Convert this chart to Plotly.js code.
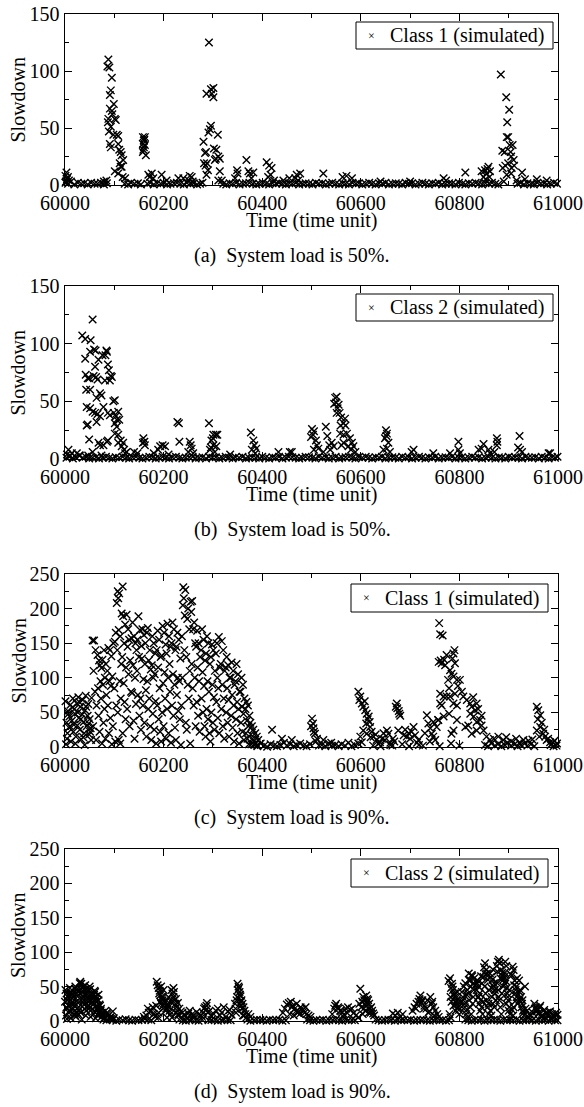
<!DOCTYPE html>
<html><head><meta charset="utf-8">
<script src="https://cdn.plot.ly/plotly-3.0.1.min.js"></script>
<style>html,body{margin:0;padding:0;background:#fff}#chart{width:584px;height:1107px}</style>
</head><body><div id="chart"></div>
<script>
// ---------- Panel (a): Class 1, load 50% ----------
const a_base_x = [
60001,60006,60012,60019,60026,60033,60039,60046,60053,60060,
60066,60073,60079,60085,60121,60128,60134,60141,60148,60154,
60167,60173,60180,60187,60194,60200,60207,60214,60221,60227,
60234,60241,60247,60254,60261,60268,60274,60279,60321,60327,
60334,60340,60347,60354,60361,60367,60374,60381,60388,60394,
60401,60408,60414,60421,60428,60434,60441,60448,60455,60461,
60468,60475,60482,60488,60495,60502,60509,60515,60522,60529,
60536,60542,60549,60556,60563,60569,60576,60583,60590,60596,
60603,60610,60617,60623,60630,60637,60644,60650,60657,60664,
60671,60677,60684,60691,60698,60704,60711,60718,60725,60731,
60738,60745,60752,60758,60765,60772,60779,60785,60792,60799,
60806,60812,60819,60826,60833,60839,60846,60853,60860,60866,
60873,60879,60918,60924,60931,60938,60945,60951,60958,60965,
60972,60978,60985,60992,60998];
const a_base_y = [
2,1,3,0.5,2,1,1.5,0.5,2,1,
1,2,0.5,1.5,1,0.5,2,1,1.5,0.5,
1,2,0.5,1.5,1,2,0.5,1,1.5,2,
1,0.5,2,1,1.5,0.5,1,2,1,0.5,
1.5,1,2,0.5,1,1.5,2,1,0.5,1,
2,1,0.5,1.5,1,2,1,0.5,1.5,1,
2,0.5,1,1.5,1,0.5,2,1,1.5,0.5,
1,2,1,0.5,1.5,1,0.5,2,1,1.5,
0.5,1,2,1,0.5,1.5,1,2,0.5,1,
1.5,1,0.5,2,1,1.5,0.5,1,2,1,
0.5,1.5,1,2,0.5,1,1.5,1,0.5,2,
1,0.5,1.5,1,2,1,0.5,1.5,1,2,
1,0.5,1,2,0.5,1.5,1,0.5,2,1,
1.5,0.5,1,2,1];
const a_spike_x = [
60001,60003,60004,60006,60002,60008,60088,60086,60090,60095,
60093,60091,60099,60091,60095,60088,60087,60093,60101,60103,
60098,60105,60108,60091,60093,60108,60110,60113,60115,60111,
60115,60101,60108,60117,60122,60113,60118,60096,60089,60084,
60079,60158,60162,60160,60158,60162,60158,60164,60160,60161,
60159,60169,60176,60172,60179,60196,60206,60230,60240,60253,
60257,60251,60259,60292,60287,60296,60301,60301,60294,60296,
60291,60281,60310,60302,60307,60311,60306,60314,60284,60286,
60282,60285,60288,60290,60287,60314,60311,60318,60298,60304,
60349,60350,60345,60368,60372,60375,60382,60378,60409,60414,
60419,60417,60412,60424,60443,60455,60470,60477,60467,60473,
60524,60563,60571,60582,60640,60700,60768,60773,60812,60845,
60852,60859,60855,60861,60849,60862,60857,60853,60884,60895,
60901,60897,60899,60896,60908,60887,60904,60892,60905,60910,
60899,60893,60888,60906,60911,60905,60896,60927,60916,60933,
60957,60977,60902,60890];
const a_spike_y = [
8,11,5,7,3,4,110,104,103,94,
83,79,71,67,65,58,55,51,58,57,
44,44,43,36,33,36,31,29,26,19,
16,12,10,7,6,16,22,62,47,4,
3,42,42,39,36,35,29,26,33,40,
31,9,10,7,6,9,4,6,6,8,
7,4,3,125,80,84,85,77,49,52,
46,38,44,32,31,25,23,23,28,29,
19,17,19,13,9,12,4,4,80,22,
13,10,6,22,12,10,11,6,20,17,
15,9,7,4,4,6,9,10,6,4,
10,7,8,6,3,3,6,4,11,12,
13,16,10,7,7,12,14,5,97,77,
66,55,42,42,35,30,29,29,25,22,
19,17,15,15,17,10,9,11,4,5,
5,4,35,3];

// ---------- Panel (b): Class 2, load 50% ----------
const b_base_x = [
60003,60009,60016,60022,60029,60036,60042,60049,60056,60063,
60069,60076,60083,60090,60096,60103,60110,60117,60124,60130,
60137,60144,60151,60157,60164,60171,60178,60184,60191,60198,
60205,60211,60218,60225,60232,60238,60245,60252,60259,60265,
60272,60279,60286,60292,60299,60306,60313,60319,60326,60333,
60340,60346,60353,60360,60367,60373,60380,60387,60394,60400,
60407,60414,60421,60427,60434,60441,60448,60454,60461,60468,
60475,60481,60488,60495,60502,60508,60515,60522,60529,60535,
60542,60549,60556,60562,60569,60576,60583,60589,60596,60603,
60610,60616,60623,60630,60637,60643,60650,60657,60664,60670,
60677,60684,60691,60697,60704,60711,60718,60724,60731,60738,
60745,60751,60758,60765,60772,60778,60785,60792,60799,60805,
60812,60819,60826,60832,60839,60846,60853,60859,60866,60873,
60880,60886,60893,60900,60907,60913,60920,60927,60934,60940,
60947,60954,60961,60967,60974,60981,60988,60994,60999];
const b_base_y = [
1,2,0.5,1.5,3,1,2,0.5,1,1.5,
0.5,1,2,1,0.5,1.5,1,2,1,0.5,
1.5,2,1,0.5,1,2,1.5,0.5,1,2,
1,0.5,1.5,2,1,0.5,1,1.5,2,0.5,
1,1.5,0.5,2,1,1.5,0.5,1,2,1,
0.5,1.5,1,2,0.5,1,1.5,1,0.5,2,
1,0.5,1.5,1,2,0.5,1,2,1.5,1,
0.5,1,2,1.5,1,0.5,2,1,1.5,0.5,
1,2,0.5,1,1.5,2,1,0.5,1.5,1,
2,1,0.5,1.5,1,2,0.5,1,1.5,1,
0.5,2,1,1.5,0.5,1,2,1,0.5,1.5,
1,2,0.5,1,1.5,1,2,0.5,1,1.5,
0.5,1,2,1,1.5,0.5,1,2,1,0.5,
1.5,1,0.5,2,1,1.5,1,0.5,2,1,
1,1.5,0.5,2,1,0.5,1.5,1,2];
const b_spike_x = [
60007,60014,60004,60010,60030,60024,60035,60041,60056,60052,
60059,60062,60051,60041,60068,60061,60085,60082,60087,60089,
60091,60081,60042,60046,60049,60063,60066,60095,60071,60074,
60064,60043,60051,60044,60051,60056,60061,60066,60071,60064,
60078,60087,60091,60098,60101,60099,60103,60101,60105,60105,
60101,60108,60110,60044,60046,60049,60047,60056,60068,60071,
60078,60085,60087,60074,60108,60108,60113,60115,60118,60120,
60125,60122,60093,60084,60058,60076,60159,60161,60158,60162,
60140,60147,60193,60198,60203,60189,60228,60231,60232,60253,
60255,60257,60250,60260,60292,60301,60306,60309,60297,60301,
60294,60304,60307,60335,60377,60382,60384,60388,60379,60386,
60433,60456,60300,60296,60180,60210,60460,60501,60505,60499,
60509,60511,60514,60505,60524,60529,60532,60536,60541,60545,
60548,60551,60550,60546,60555,60551,60557,60568,60565,60559,
60569,60558,60565,60572,60578,60582,60575,60585,60565,60561,
60589,60580,60651,60653,60649,60656,60653,60659,60646,60707,
60703,60747,60781,60798,60798,60801,60849,60845,60839,60859,
60862,60876,60877,60876,60922,60923,60927,60981,60984,60553,
60560,60503,60538,60652,60871,60919];
const b_spike_y = [
8,5,4,3,3,5,107,104,121,103,
95,94,93,87,86,80,93,90,82,77,
68,68,73,70,70,71,69,71,57,55,
53,60,60,45,44,41,40,39,37,32,
45,40,38,50,51,40,37,31,34,28,
22,41,34,29,30,17,3,6,14,12,
12,15,16,3,21,14,16,11,14,8,
6,5,72,94,72,90,18,15,14,12,
6,5,11,12,11,8,32,31,15,15,
12,9,6,5,31,21,21,21,16,12,
8,6,11,4,23,16,12,9,8,5,
6,6,18,10,5,4,6,26,24,19,
16,12,9,8,6,28,20,12,14,11,
53,54,49,48,47,40,40,35,31,29,
29,22,21,22,18,14,11,11,14,12,
6,8,25,22,18,14,9,6,8,8,
6,5,5,15,8,5,13,9,8,8,
5,18,15,12,20,8,6,5,5,44,
36,21,8,20,6,10];

// ---------- Panel (c): Class 1, load 90% ----------
const c_base_x = [
60384,60390,60397,60404,60410,60417,60424,60430,60437,60444,
60450,60457,60464,60470,60477,60484,60490,60497,60515,60521,
60528,60535,60541,60548,60555,60561,60568,60575,60581,60588,
60625,60640,60660,60664,60684,60698,60718,60726,60760,60800,
60852,60858,60865,60872,60878,60885,60892,60898,60905,60912,
60918,60925,60932,60938,60945,60952,60985,60991,60997];
const c_base_y = [
3,1,5,2,0.5,4,2,1,3,6,
2,4,1,3,5,2,1,4,2,3,
1,5,2,3,1,4,2,6,1,3,
2,1,3,2,4,1,3,2,1,2,
3,1,5,2,4,1,3,6,2,4,
1,3,5,2,4,1,3,1,2];
const c_left_x = [
60001,60003,60004,60006,60008,60009,60011,60012,60014,60016,
60017,60019,60020,60022,60024,60025,60027,60028,60030,60031,
60033,60035,60036,60038,60039,60041,60042,60044,60046,60047,
60049,60050,60052,60054,60002,60005,60010,60015,60021,60026,
60032,60037,60043,60048,60053,60007,60018,60029,60040,60051];
const c_left_y = [
66,35,12,52,28,44,61,8,38,70,
22,55,48,15,63,31,72,42,25,58,
11,47,68,36,20,53,74,30,45,62,
18,40,27,71,4,20,30,57,5,50,
40,14,58,34,10,48,32,65,3,22];
const c_cloud_x = [
60056,60059,60062,60058,60061,60064,60057,60063,
60066,60071,60074,60069,60072,60067,60073,60068,60070,60075,
60076,60083,60079,60081,60077,60084,60080,60078,60082,
60088,60091,60094,60086,60090,60093,60087,60092,60089,60095,
60101,60098,60103,60105,60096,60100,60104,60097,60102,
60108,60110,60107,60109,60112,60106,60114,60111,60113,60107,60109,60112,
60117,60115,60118,60122,60120,60116,60124,60119,60121,60123,60117,
60125,60128,60130,60135,60127,60132,60129,60134,60126,60131,
60137,60140,60143,60145,60138,60142,60136,60144,60139,60141,
60149,60152,60147,60155,60150,60146,60153,60148,60151,60154,
60157,60160,60163,60156,60162,60159,60164,60158,60161,60165,
60168,60166,60172,60170,60174,60167,60171,60169,60173,60175,
60177,60180,60183,60176,60182,60179,60184,60178,60181,60185,
60188,60191,60186,60194,60189,60192,60187,60190,60193,60195,
60198,60201,60204,60196,60202,60199,60203,60197,60200,60205,
60208,60211,60214,60206,60212,60209,60213,60207,60210,60215,
60218,60221,60216,60224,60219,60222,60217,60220,60223,60225,
60228,60231,60226,60234,60229,60232,60227,60230,60233,60235,
60240,60244,60241,60239,60243,60237,60242,60238,60236,60245,
60255,60250,60248,60252,60246,60253,60249,60251,60247,60254,
60258,60256,60262,60260,60264,60257,60263,60259,60261,60265,
60268,60271,60266,60274,60269,60272,60267,60270,60273,
60278,60281,60276,60284,60279,60282,60277,60280,60283,60285,
60288,60291,60286,60294,60289,60292,60287,60290,60293,60295,
60298,60301,60296,60304,60299,60302,60297,60300,60303,
60312,60308,60306,60314,60309,60311,60307,60310,60313,
60318,60321,60316,60324,60319,60322,60317,60320,60323,
60328,60331,60326,60334,60329,60332,60327,60330,60333,
60338,60341,60336,60344,60339,60342,60337,60340,60343,
60348,60351,60346,60354,60349,60352,60347,60350,60353,
60358,60361,60356,60364,60359,60362,60357,60360,60363,
60368,60371,60366,60374,60369,60372,60367,60370,60373,
60376,60379,60382,60377,60380,60383,60378,
60386,60389,60392,60387,60390];
const c_cloud_y = [
154,154,140,110,80,60,30,10,
133,118,114,125,95,85,70,45,22,5,
126,120,140,100,90,75,55,35,12,
143,140,131,110,95,88,60,42,20,4,
152,150,165,208,102,85,60,30,8,
215,222,225,169,160,140,120,95,70,50,10,5,
232,193,189,177,150,130,115,92,65,40,20,
191,170,155,157,145,125,105,80,55,30,
180,160,150,140,118,100,78,62,38,12,
189,169,155,146,130,110,70,75,45,25,
170,162,150,128,120,98,82,60,35,15,
172,165,140,125,112,95,70,55,30,10,
160,150,135,118,105,100,66,48,25,5,
168,155,140,130,115,85,60,40,22,8,
175,165,148,132,108,92,70,50,30,12,
178,160,145,135,120,100,80,55,20,6,
180,170,150,140,105,90,60,45,28,10,
165,155,145,128,100,95,75,52,40,3,
231,227,215,205,190,160,140,100,60,35,
210,200,185,170,130,110,90,70,25,5,
211,195,180,170,150,120,100,85,60,30,
168,150,145,130,115,95,65,45,22,
170,155,140,125,108,88,70,50,30,15,
160,150,135,120,95,80,55,40,20,8,
148,140,130,110,90,72,50,35,25,
159,150,135,115,100,85,65,42,20,
153,140,120,110,90,70,55,30,12,
130,118,115,100,85,68,50,35,15,
122,110,100,90,75,60,45,28,8,
120,105,95,80,65,55,40,20,5,
100,90,80,70,58,48,35,22,10,
65,60,55,45,38,30,20,12,4,
35,30,25,18,12,8,4,
20,15,10,6,3];
const c_right_x = [
60501,60503,60504,60507,60511,60499,60505,60509,60524,60540,
60595,60599,60602,60605,60609,60612,60616,60618,60619,60611,
60605,60612,60622,60599,60602,60595,60597,60608,60614,60620,
60626,60632,60643,60653,60656,60649,60639,60630,60646,60636,
60673,60674,60678,60680,60676,60671,60677,60668,60660,60665,
60687,60693,60700,60707,60710,60717,60690,60697,60703,60714,
60734,60737,60741,60744,60747,60751,60754,60757,60730,60740,
60759,60761,60766,60758,60764,60769,60774,60788,60791,60781,
60784,60788,60795,60801,60777,60761,60768,60774,60781,60791,
60805,60808,60761,60764,60788,60795,60747,60757,60768,60779,
60795,60784,60788,60783,60771,60786,60797,60762,60790,60779,
60815,60822,60825,60832,60835,60822,60829,60835,60842,60845,
60849,60835,60818,60812,60825,60855,60862,60838,60828,60845,
60879,60889,60930,60905,60915,60870,60940,60895,60922,60948,
60957,60960,60964,60957,60964,60970,60974,60977,60984,60998,
60959,60967,60962,60972,60980,60990,60993,60420,60440,60460];
const c_right_y = [
41,34,27,19,12,30,22,8,10,6,
80,73,63,58,53,48,44,36,29,34,
24,19,22,15,7,5,68,66,40,14,
15,10,12,24,19,10,7,18,20,5,
63,56,48,45,24,58,52,8,6,12,
17,15,12,29,17,10,25,20,22,6,
46,34,27,19,15,10,29,39,20,8,
179,163,161,123,121,126,133,135,121,111,
106,102,97,97,97,77,73,73,73,77,
80,73,63,60,63,60,36,39,44,48,
39,19,24,5,118,128,88,125,140,85,
68,63,58,53,63,48,44,36,39,31,
24,24,31,29,19,15,10,55,72,45,
15,10,10,8,12,12,9,14,6,11,
58,53,46,24,29,19,15,10,7,5,
40,35,15,25,12,6,9,25,12,10];

// ---------- Panel (d): Class 2, load 90% ----------
const d_base_x = [
60078,60084,60091,60097,60104,60110,60117,60123,60130,60136,
60143,60149,60156,60162,60169,60175,60232,60239,60245,60252,
60258,60265,60271,60278,60291,60297,60304,60310,60317,60323,
60330,60336,60370,60376,60383,60389,60396,60402,60409,60415,
60422,60428,60435,60441,60448,60491,60497,60504,60510,60517,
60523,60530,60536,60543,60549,60556,60562,60569,60575,60582,
60588,60630,60636,60643,60649,60656,60662,60669,60675,60682,
60688,60695,60701,60708,60714,60721,60727,60734,60740,60747,
60753,60760,60766,60773,60779,60812,60818,60825,60831,60838,
60844,60851,60857,60864,60870,60877,60883,60890,60896,60903,
60909,60916,60922,60929,60935,60942,60948,60955,60961,60968,
60974,60981,60987,60994,60999];
const d_base_y = [
2,1,3,1.5,0.5,2,1,2.5,1,0.5,
2,1,1.5,3,2,1,2,1,0.5,1.5,
2,1,0.5,2,1,1.5,2,0.5,1,2,
1.5,1,2,0.5,1,2,1.5,1,0.5,2,
1,1.5,2,0.5,1,2,1,0.5,1.5,1,
2,0.5,1,1.5,2,1,0.5,2,1,1.5,
1,2,1,0.5,1.5,2,1,0.5,2,1,
1.5,1,2,0.5,1,1.5,2,1,0.5,1,
2,1,1.5,0.5,1,2,1,0.5,1.5,1,
2,0.5,1,1.5,2,1,0.5,2,1,1.5,
1,2,0.5,1,1.5,2,1,0.5,2,1,
1.5,0.5,2,1,1];
const d_cloud_x = [
60001,60003,60005,60007,60009,60002,60004,60006,60008,60010,
60011,60013,60015,60017,60019,60012,60014,60016,60018,60020,
60021,60023,60025,60027,60029,60022,60024,60026,60028,60030,
60031,60033,60035,60037,60039,60032,60034,60036,60038,60040,
60041,60043,60045,60047,60049,60042,60044,60046,60048,60050,
60051,60053,60055,60057,60059,60052,60054,60056,60058,60060,
60061,60063,60065,60067,60069,60062,60064,60066,60068,60070,
60071,60073,60075,60077,60079,60072,60076,60082,60085,60088,
60091,60094,60097,60086,60093,60099,60165,60170,60175,60178,
60180,60183,60168,60173,60186,60188,60190,60192,60194,60196,
60198,60200,60202,60204,60187,60189,60191,60193,60195,60197,
60199,60206,60208,60210,60212,60214,60207,60209,60216,60218,
60220,60222,60224,60226,60228,60230,60217,60221,60225,60232,
60238,60243,60248,60253,60258,60263,60267,60241,60250,60260,
60272,60276,60280,60284,60288,60292,60296,60287,60282,60278,
60302,60306,60310,60314,60318,60322,60326,60330,60334,60338,
60345,60348,60350,60352,60354,60356,60358,60360,60362,60364,
60366,60368,60351,60355,60357,60359,60347,60361,60372,60376,
60442,60446,60450,60454,60458,60462,60466,60470,60474,60478,
60482,60486,60490,60494,60498,60456,60464,60472,60480,60488,
60542,60546,60550,60554,60558,60562,60566,60570,60574,60578,
60582,60586,60590,60548,60560,60572,60595,60597,60599,60601,
60603,60605,60607,60609,60611,60613,60615,60617,60619,60621,
60623,60625,60627,60604,60610,60616,60665,60670,60675,60680,
60685,60705,60709,60713,60717,60721,60725,60729,60733,60737,
60741,60744,60747,60751,60755,60758,60719,60723,60739,60749,
60778,60781,60783,60785,60787,60789,60791,60793,60795,60797,
60799,60780,60782,60786,60790,60794,60798,60800,60784,60792,
60805,60808,60811,60814,60817,60807,60810,60813,60816,60812,
60819,60821,60823,60825,60827,60829,60818,60820,60822,60824,60826,60828,
60835,60837,60839,60841,60843,60845,60847,60836,60838,60840,60842,60844,
60850,60852,60854,60856,60858,60851,60853,60855,60857,60859,60849,60860,
60862,60864,60866,60868,60870,60872,60874,60863,60865,60867,60869,60871,
60876,60878,60880,60882,60884,60886,60888,60877,60879,60881,60883,60885,60887,60889,
60891,60893,60895,60897,60899,60901,60903,60892,60894,60896,60898,60900,
60906,60908,60910,60912,60914,60916,60918,60907,60909,60911,60913,60915,
60921,60923,60925,60927,60929,60931,60933,60922,60926,60930,
60937,60941,60945,60949,60939,60952,60955,60958,60961,60964,
60967,60953,60957,60960,60963,60972,60976,60980,60984,60988,
60992,60996,60999,60974,60982,60990];
const d_cloud_y = [
45,40,30,22,15,8,3,35,12,48,
42,38,28,18,10,4,33,24,14,47,
50,45,36,26,16,6,40,30,20,55,
57,54,44,34,24,12,2,49,30,18,
52,46,38,28,18,8,42,32,22,50,
46,40,32,24,14,6,36,28,10,44,
42,36,28,20,12,4,32,16,38,24,
22,18,12,8,4,15,10,15,12,8,
5,3,14,10,6,4,8,12,15,20,
10,6,18,14,57,52,48,44,38,35,
30,25,20,15,10,5,40,28,50,33,
22,30,25,20,15,10,5,22,45,40,
35,30,25,20,15,10,5,42,32,18,
12,8,5,15,10,6,13,9,11,7,
10,8,12,20,26,14,8,22,18,6,
10,15,18,8,12,20,6,14,16,9,
25,30,54,50,42,36,30,25,20,15,
10,5,45,38,28,18,12,8,10,6,
12,18,24,26,28,22,18,25,14,20,
16,12,10,8,6,10,8,12,18,20,
10,18,25,20,15,12,10,18,20,16,
18,12,8,22,14,12,5,25,47,20,
28,35,30,15,37,32,30,25,18,20,
15,11,8,10,22,12,11,8,12,6,
10,15,20,25,28,37,30,22,18,12,
35,25,20,15,10,6,32,27,14,8,
58,62,48,54,45,38,35,28,25,20,
16,10,5,50,40,30,20,10,28,15,
42,30,20,10,5,35,25,15,45,55,
69,60,50,67,54,45,40,30,20,10,65,35,
45,59,50,40,30,20,10,55,35,25,15,65,
78,84,74,69,60,50,40,30,20,10,64,45,
69,64,35,25,55,45,30,15,8,60,50,40,
80,86,89,84,74,40,65,55,45,30,20,10,70,60,
64,54,25,40,30,20,10,70,58,48,35,15,
66,79,74,59,45,35,25,16,8,52,40,30,
59,45,35,25,15,8,50,30,20,12,
15,10,8,12,6,25,20,16,12,22,
8,18,14,10,20,16,11,8,14,10,
6,12,9,5,13,8];
const d_extra_x = [
60000,60004,60008,60012,60016,60020,60024,60028,60032,60036,
60040,60044,60048,60052,60056,60060,60064,60068,60072,60074,
60003,60011,60019,60027,60035,60043,60051,60059,60067,60015,
60185,60190,60195,60200,60205,60210,60215,60220,60225,60229,
60349,60353,60357,60363,60346,60290,60286,60160,60230,60235,
60782,60788,60796,60803,60809,60815,60821,60827,60833,60839,
60846,60853,60859,60865,60871,60877,60883,60889,60895,60901,
60904,60910,60916,60922,60928,60934,60880,60868,60848,60830,
60460,60468,60476,60484,60555,60565,60606,60612,60620,60728,
60735,60745,60712,60958,60966,60978,60986,60994,60893,60917];
const d_extra_y = [
28,18,38,25,35,8,12,45,40,28,
38,20,45,30,18,35,22,30,16,6,
20,30,22,10,48,15,20,38,8,40,
22,12,25,45,18,35,28,48,12,26,
35,48,22,8,18,12,16,6,8,14,
35,22,42,28,50,38,58,25,52,35,
55,68,25,48,20,72,62,50,80,45,
68,20,50,42,30,18,35,75,28,62,
20,14,10,14,18,6,18,26,12,18,
30,28,18,18,6,12,4,10,86,62];

const xTickVals = [60000,60200,60400,60600,60800,61000];
const legendNames = ['Class 1 (simulated)','Class 2 (simulated)','Class 1 (simulated)','Class 2 (simulated)'];
const captions = ['(a)\u00A0 System load is 50%.','(b)\u00A0 System load is 50%.','(c)\u00A0 System load is 90%.','(d)\u00A0 System load is 90%.'];
const yMax = [150,150,250,250];
const xTitle = 'Time (time unit)';
const yTitle = 'Slowdown';

// ---------- layout geometry (pixels) ----------
const W = 584, H = 1107;
const FONT = 'Liberation Serif, Times New Roman, Times, serif';
const geo = [
  {top:14, bot:185, leg:[356,553,22,49]},
  {top:286, bot:459, leg:[356,553,294,321]},
  {top:574, bot:747, leg:[351,548,584,612]},
  {top:849, bot:1021, leg:[351,548,859,887]}
];
const series = [
  {x:[a_base_x,a_spike_x], y:[a_base_y,a_spike_y]},
  {x:[b_base_x,b_spike_x], y:[b_base_y,b_spike_y]},
  {x:[c_base_x,c_left_x,c_cloud_x,c_right_x], y:[c_base_y,c_left_y,c_cloud_y,c_right_y]},
  {x:[d_base_x,d_cloud_x,d_extra_x], y:[d_base_y,d_cloud_y,d_extra_y]}
];
const py = p => 1 - p / H;
const px = p => p / W;

const traces = [], annotations = [], shapes = [];
const layout = {
  width: W, height: H, margin:{l:0,r:0,t:0,b:0},
  paper_bgcolor:'#fff', plot_bgcolor:'#fff', showlegend:false,
  font:{family:FONT, size:20, color:'#000'}
};
series.forEach((s, i) => {
  const k = i + 1;
  const sfx = k === 1 ? '' : String(k);
  const g = geo[i];
  traces.push({
    type:'scatter', mode:'markers',
    x:[].concat(...s.x), y:[].concat(...s.y),
    xaxis:'x'+sfx, yaxis:'y'+sfx,
    name: legendNames[i],
    cliponaxis:false, hoverinfo:'skip',
    marker:{symbol:'x-thin-open', size:7.5, color:'#000', line:{width:1.4, color:'#000'}}
  });
  const common = {
    showline:true, linecolor:'#000', linewidth:1.4, mirror:'ticks',
    ticks:'inside', ticklen:7, tickwidth:1, tickcolor:'#000',
    showgrid:false, zeroline:false, fixedrange:true,
    tickfont:{family:FONT, size:20, color:'#000'}
  };
  layout['xaxis'+sfx] = Object.assign({}, common, {
    domain:[65/W, 558/W], range:[60000,61000], tickvals:xTickVals, tickformat:'d',
    anchor:'y'+sfx,
    minor:{dtick:100, tick0:60000, ticks:'inside', ticklen:4, tickwidth:1, tickcolor:'#000', showgrid:false}
  });
  layout['yaxis'+sfx] = Object.assign({}, common, {
    domain:[py(g.bot), py(g.top)], range:[0, yMax[i]], dtick:50, tick0:0,
    anchor:'x'+sfx,
    minor:{dtick:25, tick0:0, ticks:'inside', ticklen:4, tickwidth:1, tickcolor:'#000', showgrid:false}
  });
  // legend box
  const [l, r, t, b] = g.leg;
  shapes.push({type:'rect', xref:'paper', yref:'paper', x0:px(l), x1:px(r), y0:py(b), y1:py(t),
    line:{color:'#000', width:1}, fillcolor:'#fff', layer:'above'});
  annotations.push({
    text:'×', xref:'paper', yref:'paper', x:px(l+15), y:py((t+b)/2),
    xanchor:'center', yanchor:'middle', showarrow:false,
    font:{family:FONT, size:12, color:'#000'}
  });
  annotations.push({
    text:legendNames[i], xref:'paper', yref:'paper', x:px(l+32), y:py((t+b)/2),
    xanchor:'left', yanchor:'middle', showarrow:false,
    font:{family:FONT, size:20, color:'#000'}
  });
  annotations.push({
    text:yTitle, xref:'paper', yref:'paper', x:18/W, y:py((g.top+g.bot)/2),
    xanchor:'center', yanchor:'middle', textangle:-90, showarrow:false,
    font:{family:FONT, size:20, color:'#000'}
  });
  annotations.push({
    text:xTitle, xref:'paper', yref:'paper', x:311.5/W, y:py(g.bot+35),
    xanchor:'center', yanchor:'middle', showarrow:false,
    font:{family:FONT, size:20, color:'#000'}
  });
  annotations.push({
    text:captions[i], xref:'paper', yref:'paper', x:0.5, y:py(g.bot+70),
    xanchor:'center', yanchor:'middle', showarrow:false,
    font:{family:FONT, size:20, color:'#000'}
  });
});
layout.annotations = annotations;
layout.shapes = shapes;
Plotly.newPlot('chart', traces, layout, {staticPlot:true, displayModeBar:false});
</script>
</body></html>
